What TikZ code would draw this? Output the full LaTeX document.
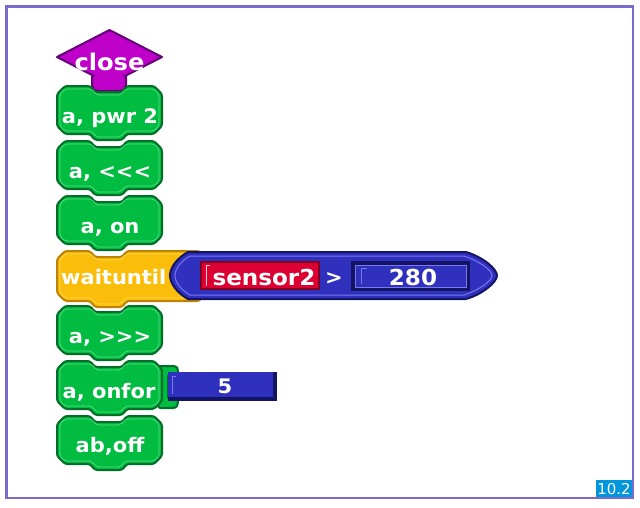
\documentclass[tikz,border=0pt]{standalone}
\usepackage{fontspec}
\newfontfamily\blkfont[FakeStretch=1.05]{DejaVu Sans}
\newfontfamily\lblfont{DejaVu Sans}
\definecolor{grn}{RGB}{0,188,64}
\definecolor{grnd}{RGB}{0,110,40}
\definecolor{grnl}{RGB}{110,235,150}
\definecolor{pur}{RGB}{190,0,200}
\definecolor{purd}{RGB}{100,0,120}
\definecolor{yel}{RGB}{250,190,10}
\definecolor{yeld}{RGB}{190,130,0}
\definecolor{yell}{RGB}{255,225,110}
\definecolor{blu}{RGB}{48,48,190}
\definecolor{blud}{RGB}{20,20,100}
\definecolor{blul}{RGB}{120,120,240}
\definecolor{rd}{RGB}{220,0,50}
\definecolor{rdd}{RGB}{130,0,30}
\definecolor{frame}{RGB}{125,105,205}
\definecolor{lbl}{RGB}{0,150,220}
% #1 x, #2 y, #3 w, #4 h, #5 inset, #6 style
\newcommand\cmdpath[6]{%
  \draw[#6] (#1+#5,#2+8) -- (#1+8,#2+#5) -- (#1+33+#5*0.5,#2+#5) -- (#1+38+#5*0.5,#2+6+#5) -- (#1+65-#5*0.5,#2+6+#5) -- (#1+70-#5*0.5,#2+#5)
   -- (#1+#3-8,#2+#5) -- (#1+#3-#5,#2+8) -- (#1+#3-#5,#2+#4-8) -- (#1+#3-8,#2+#4-#5) -- (#1+70-#5*0.5,#2+#4-#5)
   -- (#1+65-#5*0.5,#2+#4+6-#5) -- (#1+38+#5*0.5,#2+#4+6-#5) -- (#1+33+#5*0.5,#2+#4-#5) -- (#1+8,#2+#4-#5) -- (#1+#5,#2+#4-8) -- cycle;}
\newcommand\cmdblk[5]{%
  \cmdpath{#1}{#2}{#3}{#4}{0}{#5}%
  \cmdpath{#1}{#2}{#3}{#4}{3}{#5 hl}}
\tikzset{
  blk/.style={line width=2pt, rounded corners=2.5pt, line join=round},
  green/.style={blk, fill=grn, draw=grnd},
  green hl/.style={draw=grnl, line width=0.7pt, rounded corners=2pt, opacity=0.8},
  yellow/.style={blk, fill=yel, draw=yeld},
  yellow hl/.style={draw=yell, line width=0.7pt, rounded corners=2pt, opacity=0.8},
  txt/.style={text=white, font=\blkfont\bfseries\fontsize{20}{22}\selectfont, anchor=base, inner sep=0pt},
  bigtxt/.style={txt, font=\blkfont\bfseries\fontsize{22}{24}\selectfont},
}
\begin{document}
\begin{tikzpicture}[x=1pt,y=-1pt]
\useasboundingbox (0,0) rectangle (640,507);
\fill[white] (0,0) rectangle (640,507);
\draw[frame, line width=2.5pt] (6.5,6.5) rectangle (633,498);
% label
\fill[lbl] (596,480) rectangle (632,497);
\node[text=white, font=\lblfont\fontsize{15}{16}\selectfont, anchor=base, inner sep=0pt] (lab) at (614,494) {10.2};
% close
\draw[fill=pur, draw=purd, line width=2pt, line join=round] (92,76) -- (92,86) -- (97,91) -- (121,91) -- (126,86) -- (126,76) -- cycle;
\draw[fill=pur, draw=purd, line width=2pt, line join=round] (57,57) -- (109.5,30) -- (162,57) -- (109.5,84) -- cycle;
\fill[pur] (94,76) rectangle (124,89);
\node[bigtxt, font=\blkfont\bfseries\fontsize{23}{25}\selectfont] (close) at (109.5,70) {close};
% green blocks
\cmdblk{57}{86}{105}{48}{green}
\node[txt] (pwr) at (110,123) {a, pwr 2};
\cmdblk{57}{141}{105}{48}{green}
\node[txt] (lt) at (110,178) {a, <<<};
\cmdblk{57}{196}{105}{48}{green}
\node[txt] (on) at (110,233) {a, on};
% waituntil
\cmdblk{57}{251}{150}{50}{yellow}
\draw[fill=blu, draw=blud, line width=2pt] (188,252) -- (466,252) .. controls (483,257) and (497,269) .. (497,275.5) .. controls (497,282) and (483,294) .. (466,299) -- (188,299) .. controls (177,293) and (170,283) .. (170,275.5) .. controls (170,268) and (177,258) .. (188,252) -- cycle;
\draw[blul, line width=1pt] (190,256) -- (464,256) .. controls (479,261) and (492,270) .. (492,275.5) .. controls (492,281) and (479,290) .. (464,295) -- (190,295) .. controls (181,290) and (175,282) .. (175,275.5) .. controls (175,269) and (181,261) .. (190,256);
\node[txt, anchor=base west] (wait) at (61,284) {waituntil};
% sensor2
\draw[fill=rd, draw=rdd, line width=1.5pt] (201,262) rectangle (319,289);
\draw[white!80!rd, line width=1pt] (210,265) -- (206,265) -- (206,286);
\node[bigtxt] (s2) at (264,285) {sensor2};
\node[txt] (gt) at (334,284) {>};
% 280 slot
\fill[blud] (351,261) rectangle (470,291);
\draw[fill=blu, draw=blul, line width=0.8pt] (355,265) rectangle (466,287);
\draw[blul, line width=1pt] (367,268) -- (361,268) -- (361,284);
\node[bigtxt] (n280) at (413,285) {280};
% remaining blocks
\cmdblk{57}{306}{105}{48}{green}
\node[txt] (gtgt) at (110,343) {a, >>>};
\draw[green] (158,366) -- (176,366) -- (178,369) -- (178,374) -- (168,374) -- (168,399) -- (178,399) -- (178,404) -- (176,408) -- (158,408) -- cycle;
\cmdblk{57}{361}{105}{48}{green}
\node[txt] (onfor) at (109,398) {a, onfor};
\fill[blud] (168,372) rectangle (277,401);
\fill[blu] (168,372) rectangle (273,397);
\draw[blul, line width=1pt] (176,376) -- (172,376) -- (172,394);
\node[txt] (five) at (225,393) {5};
\cmdblk{57}{416}{105}{48}{green}
\node[txt] (off) at (110,452) {ab,off};
\end{tikzpicture}
\end{document}
